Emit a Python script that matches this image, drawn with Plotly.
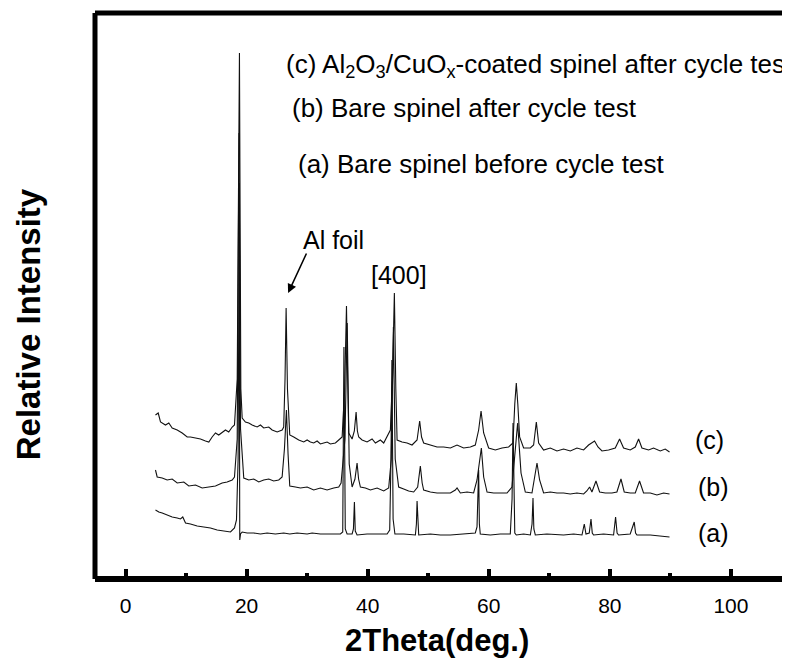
import plotly.graph_objects as go

# ---- data: 2theta (deg) and relative intensity (traces offset) ----
c_x = [4.95, 5.40, 5.78, 6.60, 7.15, 7.71, 8.54, 9.36, 10.19, 10.73, 11.56, 12.38, 13.21, 13.76, 14.31, 14.86,
       15.40, 15.96, 16.51, 17.05, 17.62, 18.0, 18.45, 18.82, 19.05, 19.27, 19.81, 20.36, 20.92, 21.74, 22.29,
       22.83, 23.66, 24.22, 25.05, 25.87, 26.13, 26.35, 26.53, 26.75, 27.13, 27.79, 28.61, 29.44, 30.0, 30.54,
       31.09, 31.65, 32.19, 32.74, 33.30, 33.84, 34.67, 35.22, 35.78, 36.2, 36.5, 36.7, 36.87, 37.43, 37.8,
       38.09, 38.3, 38.52, 39.08, 39.9, 40.73, 41.28, 42.1, 42.65, 43.21, 43.75, 44.1, 44.41, 44.65, 44.86,
       45.68, 46.51, 47.33, 48.16, 48.59, 48.9, 49.25, 50.36, 51.46, 52.55, 53.66, 54.76, 55.85, 56.96, 57.78,
       58.33, 58.73, 59.16, 59.98, 61.09, 62.19, 63.28, 64.0, 64.3, 64.55, 64.8, 65.1, 65.76, 66.87, 67.41,
       67.86, 68.24, 69.06, 70.17, 71.27, 72.36, 73.47, 74.57, 75.67, 76.49, 76.89, 77.48, 78.04, 78.7, 79.79,
       80.9, 81.61, 82.27, 83.37, 84.2, 84.75, 85.3, 86.4, 87.22, 88.33, 89.15, 89.86]
c_y = [164, 166, 157, 154, 156, 151, 149, 146, 142, 142, 141, 140, 138, 137, 142, 146,
       144, 147, 149, 147, 152, 154, 200, 526, 190, 161, 157, 156, 154, 152, 154,
       151, 152, 149, 147, 149, 152, 200, 271, 190, 144, 142, 139, 137, 139, 137,
       136, 138, 135, 136, 137, 135, 136, 139, 142, 190, 273, 200, 146, 140, 148,
       167, 148, 142, 139, 137, 140, 136, 139, 136, 142, 149, 200, 286, 190, 139,
       137, 136, 134, 139, 158, 142, 136, 134, 132, 132, 131, 134, 131, 132, 134,
       149, 168, 146, 131, 129, 131, 132, 136, 175, 196, 175, 142, 131, 131, 134,
       157, 136, 129, 131, 128, 130, 128, 131, 129, 134, 136, 138, 132, 128, 129,
       131, 140, 131, 129, 132, 140, 131, 129, 131, 128, 130, 127]

b_x = [4.95, 5.23, 6.06, 6.88, 7.71, 8.54, 9.63, 10.45, 11.56, 12.66, 13.76, 14.86, 15.96, 16.79, 17.62, 18.0,
       18.45, 18.75, 19.0, 19.53, 20.36, 21.18, 22.01, 22.83, 23.66, 24.48, 25.31, 25.87, 26.25, 26.58, 26.85,
       27.13, 28.07, 28.89, 30.0, 31.09, 32.19, 33.3, 34.39, 35.22, 35.61, 36.25, 36.62, 36.95, 37.43, 37.9,
       38.25, 38.5, 38.8, 39.62, 40.45, 41.56, 42.65, 43.47, 43.9, 44.25, 44.55, 45.12, 45.95, 46.77, 47.6,
       48.26, 48.7, 49.0, 49.25, 50.36, 51.46, 52.55, 53.66, 54.48, 54.76, 55.31, 56.41, 57.5, 58.06, 58.78,
       59.16, 59.72, 60.81, 61.91, 63.02, 63.84, 64.3, 64.77, 65.33, 66.04, 67.14, 67.52, 67.97, 68.4, 69.06,
       70.17, 71.27, 72.36, 73.47, 74.57, 75.67, 76.2, 76.66, 77.04, 77.71, 78.31, 79.25, 80.35, 81.17, 81.84,
       82.38, 83.37, 84.2, 84.91, 85.57, 86.68, 87.78, 88.88, 89.86]
b_y = [109, 102, 101, 99, 100, 96, 97, 93, 94, 91, 92, 93, 96, 97, 99, 102,
       140, 446, 150, 101, 99, 100, 97, 99, 100, 98, 99, 102, 130, 169, 125,
       93, 92, 91, 92, 89, 91, 89, 91, 92, 96, 140, 256, 115, 92, 100,
       116, 100, 92, 91, 89, 91, 88, 91, 120, 252, 120, 92, 90, 88, 87,
       92, 113, 96, 89, 87, 86, 86, 86, 89, 91, 86, 87, 86, 99, 131,
       102, 87, 86, 86, 86, 92, 125, 156, 106, 87, 86, 99, 116, 99, 86,
       87, 86, 86, 85, 86, 85, 88, 92, 87, 98, 87, 86, 86, 87, 100,
       87, 86, 86, 98, 86, 86, 84, 86, 85]

a_x = [4.95, 5.5, 6.06, 6.88, 7.71, 8.54, 9.08, 9.46, 9.91, 10.73, 11.84, 12.93, 14.03, 15.14, 16.23, 17.34,
       18.0, 18.33, 18.6, 18.8, 18.85, 18.87, 19.0, 19.27, 20.09, 21.18, 22.29, 23.39, 24.76, 26.13, 27.13,
       28.34, 30.0, 30.82, 32.19, 33.84, 35.5, 35.88, 36.08, 36.3, 36.6, 37.43, 37.65, 37.81, 37.95, 38.25,
       39.9, 41.56, 43.21, 43.64, 43.85, 44.0, 44.2, 44.5, 45.95, 47.88, 48.05, 48.16, 48.3, 48.43, 50.36,
       52.0, 53.66, 55.85, 57.78, 58.06, 58.33, 58.45, 58.6, 60.26, 61.91, 63.56, 63.85, 64.01, 64.15, 64.3,
       64.55, 65.76, 66.87, 67.15, 67.31, 67.45, 67.69, 69.6, 72.36, 74.02, 75.4, 75.78, 76.06, 76.6, 76.89,
       77.1, 77.32, 78.97, 80.62, 80.95, 81.2, 81.44, 83.37, 84.03, 84.25, 84.48, 86.68, 88.88, 89.86]
a_y = [69, 67, 66, 64, 62, 61, 60, 62, 56, 55, 53, 52, 51, 49, 48, 47,
       51, 59, 120, 396, 100, 39, 45, 47, 46, 46, 45, 46, 45, 46, 45,
       46, 45, 46, 45, 45, 45, 47, 232, 50, 45, 45, 50, 77, 48, 44,
       45, 45, 45, 49, 120, 219, 60, 45, 45, 44, 55, 78, 50, 44, 45,
       44, 44, 45, 46, 52, 109, 55, 45, 44, 45, 45, 80, 156, 70, 46,
       44, 45, 44, 55, 81, 50, 44, 45, 44, 45, 44, 55, 45, 46, 60,
       46, 44, 45, 44, 62, 46, 44, 45, 57, 46, 44, 44, 43, 42]

x_ticks = [0, 20, 40, 60, 80, 100]

FONT = "Liberation Sans, Arial, sans-serif"

fig = go.Figure()
for xs, ys in [(a_x, a_y), (b_x, b_y), (c_x, c_y)]:
    fig.add_trace(go.Scatter(x=xs, y=ys, mode="lines",
                             line=dict(color="#111111", width=1.1),
                             showlegend=False, hoverinfo="skip"))

# page body has an 8px offset, margins compensate for it
fig.update_layout(
    width=790, height=663,
    margin=dict(l=87, r=12, t=5, b=92, autoexpand=False),
    paper_bgcolor="white", plot_bgcolor="white",
    font=dict(family=FONT, color="black"),
    xaxis=dict(range=[-5.04, 109.1], tickvals=x_ticks, ticks="inside", ticklen=10, tickwidth=4,
               tickcolor="black", showgrid=False, zeroline=False, showline=False, automargin=False,
               ticklabelstandoff=12, tickfont=dict(size=21, family=FONT),
               minor=dict(dtick=10, tick0=0, ticks="inside", ticklen=6, tickwidth=4, tickcolor="black")),
    yaxis=dict(range=[0, 566], showticklabels=False, ticks="", showgrid=False, zeroline=False,
               showline=False, automargin=False),
)

# frame
fig.add_shape(type="line", xref="paper", yref="paper", x0=0, x1=0, y0=0, y1=1, line=dict(color="black", width=5))
fig.add_shape(type="line", xref="paper", yref="paper", x0=0, x1=1, y0=1, y1=1, line=dict(color="black", width=5))
fig.add_shape(type="line", xref="paper", yref="paper", x0=0, x1=1, y0=0, y1=0, line=dict(color="black", width=6))
fig.add_shape(type="line", xref="paper", yref="paper", x0=1, x1=1, y0=0, y1=1, line=dict(color="black", width=3))

# axis titles
fig.add_annotation(text="<b>2Theta(deg.)</b>", xref="paper", yref="paper", x=0.495, y=-0.108,
                   showarrow=False, xanchor="center", yanchor="middle", font=dict(size=31, family=FONT))
fig.add_annotation(text="<b>Relative Intensity</b>", xref="paper", yref="paper", x=-0.097, y=0.45,
                   showarrow=False, xanchor="center", yanchor="middle", textangle=-90,
                   font=dict(size=33, family=FONT))

def ann(text, x, y, size=26, xanchor="left"):
    fig.add_annotation(text=text, x=x, y=y, xref="x", yref="y", showarrow=False,
                       xanchor=xanchor, yanchor="middle", font=dict(size=size, family=FONT, color="black"))

ann("(c) Al<sub>2</sub>O<sub>3</sub>/CuO<sub>x</sub>-coated spinel after cycle tes", 26.25, 514)
ann("(b) Bare spinel after cycle test", 27.24, 471)
ann("(a) Bare spinel before cycle test", 28.23, 415)
ann("Al foil", 34.3, 339, size=25, xanchor="center")
ann("[400]", 45.1, 304, size=25, xanchor="center")
ann("(c)", 96.5, 139, size=25, xanchor="center")
ann("(b)", 97.1, 92, size=25, xanchor="center")
ann("(a)", 97.1, 46, size=25, xanchor="center")

fig.add_annotation(x=26.86, y=286, ax=30.0, ay=327, xref="x", yref="y", axref="x", ayref="y",
                   text="", showarrow=True, arrowhead=2, arrowsize=1.2, arrowwidth=1.5, arrowcolor="black")

fig.write_html("out.html")
